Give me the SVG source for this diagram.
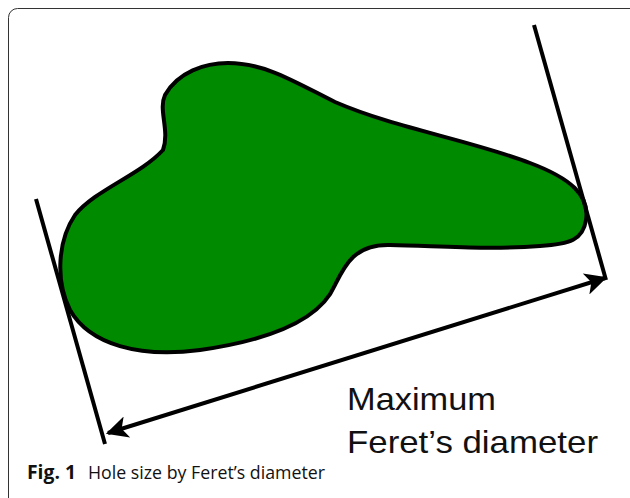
<svg xmlns="http://www.w3.org/2000/svg" width="630" height="498" viewBox="0 0 630 498">
  <style>
    .ln { stroke: #000; stroke-width: 4; fill: none; stroke-linecap: butt; }
    .lbl { font-family: "Liberation Sans", Arial, sans-serif; font-size: 32px; fill: #111; }
    .cap { font-family: "Open Sans", "Liberation Sans", sans-serif; font-size: 17.5px; fill: #111; }
  </style>
  <defs>
    <marker id="ah" viewBox="0 0 10 10" refX="9" refY="5" markerWidth="6.5" markerHeight="5.5" markerUnits="strokeWidth" orient="auto-start-reverse">
      <path d="M0,0 L10,5 L0,10 L2.5,5 Z" fill="#000"/>
    </marker>
  </defs>
  <rect x="8.5" y="8.5" width="640" height="500" rx="9" fill="#fff" stroke="#333" stroke-width="1"/>
  <g id="hole">
    <path d="M 163,150 C 170,130 158,110 165,95 C 178,72 205,63 228,63 C 265,63 295,82 335,102 C 395,128 470,140 530,163 C 570,178 590,195 586,220 C 583,240 570,244 540,246 C 490,250 440,246 390,245 C 355,244 345,265 335,285 C 320,320 270,340 200,350 C 140,358 90,345 70,310 C 55,280 58,240 75,215 C 95,190 140,175 163,150 Z" fill="#008a00" stroke="#000" stroke-width="4"/>
  </g>
  <g id="connectors">
    <line class="ln" x1="36" y1="199" x2="105" y2="444"/>
    <line class="ln" x1="534" y1="25" x2="606" y2="280"/>
    <line class="ln" x1="108" y1="433" x2="605" y2="278" marker-start="url(#ah)" marker-end="url(#ah)"/>
  </g>
  <g id="label">
    <text class="lbl" x="347" y="410" textLength="149" lengthAdjust="spacingAndGlyphs">Maximum</text>
    <text class="lbl" x="347" y="453" textLength="251" lengthAdjust="spacingAndGlyphs">Feret’s diameter</text>
  </g>
  <g id="caption">
    <text class="cap" x="27" y="479"><tspan font-weight="bold" font-size="19" textLength="49" lengthAdjust="spacingAndGlyphs">Fig. 1</tspan><tspan x="88" textLength="237" lengthAdjust="spacingAndGlyphs">Hole size by Feret’s diameter</tspan></text>
  </g>
</svg>
